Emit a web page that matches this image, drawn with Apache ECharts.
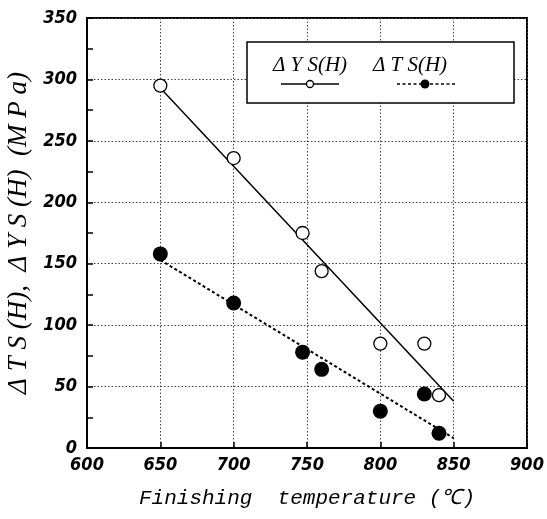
<!DOCTYPE html>
<html>
<head>
<meta charset="utf-8">
<script src="https://cdn.jsdelivr.net/npm/echarts@6/dist/echarts.min.js"></script>
<style>
  html, body { margin: 0; padding: 0; background: #fff; }
  #chart { width: 547px; height: 519px; }
</style>
</head>
<body>
<div id="chart"></div>
<script>
  // measured points, finishing temperature (C) vs. strength change (MPa)
  var temps = [650, 700, 747, 760, 800, 830, 840];
  var dYS = [295, 236, 175, 144, 85, 85, 43];
  var dTS = [158, 118, 78, 64, 30, 44, 12];

  // fitted lines (end points)
  var ysFit = [[650, 293], [850, 38]];
  var tsFit = [[650, 153], [850, 8]];

  var xTicks = [600, 650, 700, 750, 800, 850, 900];
  var yTicks = [0, 50, 100, 150, 200, 250, 300, 350];

  function pairs(xs, ys) {
    return xs.map(function (x, i) { return [x, ys[i]]; });
  }

  var tickFont = {
    fontFamily: '"DejaVu Sans Condensed", "Liberation Sans Narrow", "Arial Narrow", sans-serif',
    fontStyle: 'italic',
    fontWeight: 'bold',
    fontSize: 18,
    color: '#000'
  };

  var chart = echarts.init(document.getElementById('chart'));

  var option = {
    animation: false,
    backgroundColor: '#fff',
    grid: {
      left: 87, right: 20, top: 18, bottom: 71,
      outerBoundsMode: 'none',
      show: true, borderColor: '#000', borderWidth: 2
    },
    xAxis: {
      type: 'value',
      min: xTicks[0], max: xTicks[xTicks.length - 1], interval: 50,
      axisLine: { show: true, lineStyle: { color: '#000', width: 2 } },
      axisTick: { show: true, inside: true, length: 6, lineStyle: { color: '#000', width: 1.5 } },
      splitLine: { show: true, lineStyle: { color: '#444', type: [1.5, 2], width: 1 } },
      axisLabel: Object.assign({ margin: 8 }, tickFont),
      name: 'Finishing  temperature (℃)',
      nameLocation: 'middle',
      nameGap: 40,
      nameTextStyle: {
        fontFamily: '"Liberation Mono", "DejaVu Sans Mono", monospace',
        fontStyle: 'italic',
        fontSize: 21,
        color: '#000'
      }
    },
    yAxis: {
      type: 'value',
      min: yTicks[0], max: yTicks[yTicks.length - 1], interval: 50,
      axisLine: { show: true, lineStyle: { color: '#000', width: 2 } },
      axisTick: { show: true, inside: true, length: 6, lineStyle: { color: '#000', width: 1.5 } },
      minorTick: { show: true, splitNumber: 2, length: 6, lineStyle: { color: '#000', width: 1.5 } },
      splitLine: { show: true, lineStyle: { color: '#444', type: [1.5, 2], width: 1 } },
      axisLabel: Object.assign({ margin: 10 }, tickFont),
      name: 'Δ T S (H),  Δ Y S (H)  (M P a)',
      nameLocation: 'middle',
      nameGap: 49,
      nameTextStyle: {
        fontFamily: '"Liberation Serif", "DejaVu Serif", serif',
        fontStyle: 'italic',
        fontSize: 27,
        color: '#000'
      }
    },
    graphic: [
      {
        type: 'rect', z: 100,
        shape: { x: 247, y: 42, width: 267, height: 61 },
        style: { fill: '#fff', stroke: '#000', lineWidth: 1.5 }
      },
      {
        type: 'text', z: 101, x: 310, y: 65,
        style: {
          text: 'Δ Y S(H)', align: 'center', verticalAlign: 'middle',
          font: 'italic 21px "Liberation Serif", serif', fill: '#000'
        }
      },
      {
        type: 'text', z: 101, x: 410, y: 65,
        style: {
          text: 'Δ T S(H)', align: 'center', verticalAlign: 'middle',
          font: 'italic 21px "Liberation Serif", serif', fill: '#000'
        }
      },
      {
        type: 'line', z: 101,
        shape: { x1: 281, y1: 84, x2: 339, y2: 84 },
        style: { stroke: '#000', lineWidth: 1.5 }
      },
      {
        type: 'circle', z: 102,
        shape: { cx: 310, cy: 84, r: 3.5 },
        style: { fill: '#fff', stroke: '#000', lineWidth: 1.3 }
      },
      {
        type: 'line', z: 101,
        shape: { x1: 397, y1: 84, x2: 455, y2: 84 },
        style: { stroke: '#000', lineWidth: 1.5, lineDash: [3, 2.5] }
      },
      {
        type: 'circle', z: 102,
        shape: { cx: 425, cy: 84, r: 4.5 },
        style: { fill: '#000' }
      }
    ],
    series: [
      {
        name: 'ΔYS fit', type: 'line', data: ysFit, symbol: 'none', z: 2,
        lineStyle: { color: '#000', width: 1.5 }
      },
      {
        name: 'ΔTS fit', type: 'line', data: tsFit, symbol: 'none', z: 2,
        lineStyle: { color: '#000', width: 2, type: [3, 2.5] }
      },
      {
        name: 'ΔYS(H)', type: 'scatter', data: pairs(temps, dYS), z: 3,
        symbol: 'circle', symbolSize: 13,
        itemStyle: { color: '#fff', borderColor: '#000', borderWidth: 1.3, opacity: 1 }
      },
      {
        name: 'ΔTS(H)', type: 'scatter', data: pairs(temps, dTS), z: 3,
        symbol: 'circle', symbolSize: 15,
        itemStyle: { color: '#000', opacity: 1 }
      }
    ]
  };

  chart.setOption(option);
</script>
</body>
</html>
